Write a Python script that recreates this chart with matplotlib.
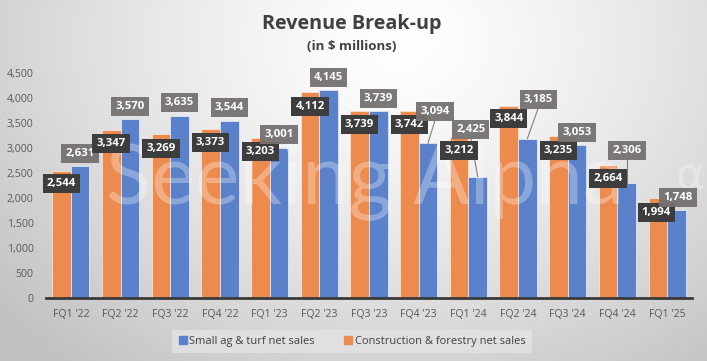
import matplotlib
matplotlib.use("Agg")
import matplotlib.pyplot as plt
import numpy as np
from matplotlib.lines import Line2D

quarters = ["FQ1 '22", "FQ2 '22", "FQ3 '22", "FQ4 '22", "FQ1 '23", "FQ2 '23", "FQ3 '23",
            "FQ4 '23", "FQ1 '24", "FQ2 '24", "FQ3 '24", "FQ4 '24", "FQ1 '25"]
small_ag = [2631, 3570, 3635, 3544, 3001, 4145, 3739, 3094, 2425, 3185, 3053, 2306, 1748]
construction = [2544, 3347, 3269, 3373, 3203, 4112, 3739, 3742, 3212, 3844, 3235, 2664, 1994]

# label placement (layout only): centre y in data units, x offset in category units
cons_label_y = [2280, 3080, 2990, 3100, 2930, 3830, 3470, 3460, 2940, 3580, 2950, 2390, 1710]
cons_label_dx = [0, 0, 0, 0, 0, 0, 0, 0, 0, 0, 0, 0, -0.03]
ag_label_y = [2880, 3820, 3900, 3800, 3270, 4400, 3990, 3720, 3370, 3970, 3300, 2940, 2000]
ag_label_dx = [0, 0, 0, 0, 0, 0, 0, 0.14, -0.14, 0.22, 0, 0, 0.03]
ag_leader = [False, False, False, False, False, False, False, True, True, True, False, True, False]

W, H = 707, 361
fig = plt.figure(figsize=(W / 100, H / 100), dpi=100)

# background radial gradient
bg = fig.add_axes([0, 0, 1, 1], zorder=-10)
yy, xx = np.mgrid[0:H, 0:W]
d = np.sqrt(((xx - 400) / 520.0) ** 2 + ((yy - 40) / 420.0) ** 2)
d = np.clip(d, 0, 1)
val = 1.0 - 0.24 * d ** 1.3
img = np.dstack([val, val, val])
bg.imshow(img, aspect="auto", extent=[0, 1, 0, 1], origin="upper")
bg.axis("off")

left, right = 46 / W, 692 / W
bottom, top = (H - 298) / H, (H - 72.7) / H
ax = fig.add_axes([left, bottom, right - left, top - bottom])
ax.patch.set_alpha(0)

orange = "#ED8B4E"
blue = "#5A81CA"
x = np.arange(len(quarters))
bw = 0.375
ax.bar(x - bw / 2, construction, width=bw, color=orange, edgecolor="#f4e6dc", linewidth=0.6, zorder=2)
ax.bar(x + bw / 2, small_ag, width=bw, color=blue, edgecolor="#dfe6f2", linewidth=0.6, zorder=2)

ax.set_xlim(-0.5, len(quarters) - 0.5)
ax.set_ylim(0, 4500)
ax.set_yticks(np.arange(0, 4501, 500))
ax.set_yticklabels([f"{v:,}" for v in range(0, 4501, 500)])
ax.set_xticks(x)
ax.set_xticklabels(quarters)
for lab in ax.get_xticklabels() + ax.get_yticklabels():
    lab.set_fontfamily("Open Sans")
    lab.set_fontsize(7.6)
    lab.set_color("#595959")
ax.tick_params(axis="both", length=0)
ax.tick_params(axis="y", pad=9)
ax.tick_params(axis="x", pad=8)
for s in ["top", "right", "left"]:
    ax.spines[s].set_visible(False)
ax.spines["bottom"].set_color("#3a3a3a")
ax.spines["bottom"].set_linewidth(2)
ax.spines["bottom"].set_zorder(5)

# watermark
ax.text(365 / W, 1 - 203 / H, "Seeking Alpha", transform=fig.transFigure, ha="center",
        va="baseline", fontsize=60, color="white", alpha=0.3, fontfamily="Lato",
        fontweight="normal", zorder=3, clip_on=False)
ax.text(690 / W, 1 - 190 / H, "α", transform=fig.transFigure, ha="center",
        va="baseline", fontsize=32, color="white", alpha=0.3, fontfamily="DejaVu Sans",
        zorder=3, clip_on=False)

lab_kw = dict(ha="center", va="center", color="white", fontsize=8.2, fontweight="bold",
              fontfamily="Open Sans", zorder=6)
for i in range(len(quarters)):
    ax.text(x[i] - bw / 2 + cons_label_dx[i], cons_label_y[i], f"{construction[i]:,}",
            bbox=dict(boxstyle="square,pad=0.36", fc="#3d3d3d", ec="none"), **lab_kw)
    lx = x[i] + bw / 2 + ag_label_dx[i]
    ax.text(lx, ag_label_y[i], f"{small_ag[i]:,}",
            bbox=dict(boxstyle="square,pad=0.36", fc="#767171", ec="none", alpha=0.95), **lab_kw)
    if ag_leader[i]:
        ax.plot([lx, x[i] + bw / 2], [ag_label_y[i] - 170, small_ag[i]], color="#7f7f7f",
                lw=0.8, zorder=4)

# titles
fig.text(352 / W, 1 - 24 / H, "Revenue Break-up", ha="center", va="center", fontsize=14.2,
         fontweight="bold", color="#404040", fontfamily="Open Sans")
fig.text(352 / W, 1 - 47 / H, "(in $ millions)", ha="center", va="center", fontsize=9.5,
         fontweight="bold", color="#404040", fontfamily="Open Sans")

handles = [Line2D([], [], marker="s", linestyle="none", color=blue, markersize=5.5),
           Line2D([], [], marker="s", linestyle="none", color=orange, markersize=5.5)]
leg = fig.legend(handles, ["Small ag & turf net sales", "Construction & forestry net sales"],
                 loc="center", bbox_to_anchor=(352 / W, 1 - 341.5 / H), ncol=2, frameon=True,
                 prop={"family": "Open Sans", "size": 8.0}, handlelength=0.8, handletextpad=0.2,
                 columnspacing=2.6, borderpad=0.55, borderaxespad=0, fancybox=False)
leg.get_frame().set_facecolor("#e2e2e2")
leg.get_frame().set_edgecolor("none")
leg.get_frame().set_alpha(0.85)
for t in leg.get_texts():
    t.set_color("#404040")

fig.savefig("out.png", dpi=100)
